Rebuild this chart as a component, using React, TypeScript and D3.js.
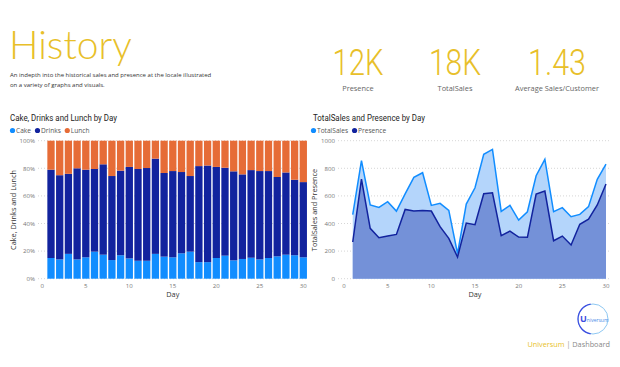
import { useEffect, useRef } from 'react';
import * as d3 from 'd3';

const days = d3.range(1, 31);

// share of each product per day, in %
const cake = [15, 14, 18, 14, 15.5, 19.6, 17.4, 13.5, 17, 14.7, 13, 13, 18, 16, 15.5, 18.4, 19.6, 12, 12, 15, 16.7, 13.3, 14.3, 15.2, 14, 15, 16.2, 17.4, 17, 15.5];
const drinks = [64, 61, 58, 66, 63.5, 59.9, 65.5, 60.9, 61.3, 66.3, 66.5, 67.2, 69, 60.6, 62.5, 58.9, 54.8, 69.6, 70, 66, 63.7, 64.5, 61.3, 63.5, 64, 63, 57.5, 59.6, 54.7, 54.5];
const lunch = [21, 25, 24, 20, 21, 20.5, 17.1, 25.6, 21.7, 19, 20.5, 19.8, 13, 23.4, 22, 22.7, 25.6, 18.4, 18, 19, 19.6, 22.2, 24.4, 21.3, 22, 22, 26.3, 23, 28.3, 30];

const totalSales = [465, 855, 534, 517, 558, 490, 615, 734, 768, 531, 546, 495, 181, 541, 659, 901, 937, 488, 531, 425, 485, 746, 865, 485, 515, 449, 466, 522, 720, 831];
const presence = [266, 722, 365, 297, 309, 321, 502, 490, 495, 490, 377, 292, 157, 403, 391, 616, 623, 312, 345, 302, 300, 613, 635, 275, 309, 244, 394, 432, 534, 686];

const kpiValues = ['12K', '18K', '1.43'];
const kpiLabels = ['Presence', 'TotalSales', 'Average Sales/Customer'];

const stackKeys = ['Cake', 'Drinks', 'Lunch'];
const stackColors = ['#118DFF', '#12239E', '#E66C37'];
const gold = '#E8BF2A';
const font = '"Open Sans", Roboto, sans-serif';

export default function App() {
  const svgRef = useRef<SVGSVGElement>(null);

  useEffect(() => {
    if (!svgRef.current) return;
    const svg = d3.select(svgRef.current);
    svg.selectAll('*').remove();
    svg.style('font-family', font);

    // header
    svg.append('text').attr('x', 9).attr('y', 59).attr('fill', gold)
      .style('font-size', '39px').style('font-weight', 300).style('font-family', 'Lato, Roboto, sans-serif')
      .text('History');
    const sub = ['An indepth into the historical sales and presence at the locale illustrated', 'on a variety of graphs and visuals.'];
    sub.forEach((t, i) => {
      svg.append('text').attr('x', 10).attr('y', 76.5 + i * 10).attr('fill', '#333')
        .style('font-size', '6px').text(t);
    });

    // cards
    const kx = [358, 455, 557];
    const kw = [51, 52, 58];
    kpiValues.forEach((v, i) => {
      svg.append('text').attr('x', kx[i] - kw[i] / 2).attr('y', 75)
        .attr('textLength', kw[i]).attr('lengthAdjust', 'spacingAndGlyphs')
        .attr('fill', gold).style('font-size', '37px').style('font-weight', 300)
        .style('font-family', 'Roboto, Lato, sans-serif').text(v);
    });
    kpiLabels.forEach((l, i) => {
      svg.append('text').attr('x', kx[i]).attr('y', 90.5).attr('text-anchor', 'middle')
        .attr('fill', '#666').style('font-size', '7.4px').text(l);
    });

    const drawLegend = (x0: number, items: string[], colors: string[]) => {
      let x = x0;
      items.forEach((name, i) => {
        svg.append('circle').attr('cx', x + 2.5).attr('cy', 130.5).attr('r', 2.6).attr('fill', colors[i]);
        const t = svg.append('text').attr('x', x + 6).attr('y', 133).attr('fill', '#555')
          .style('font-size', '6.6px').text(name);
        x += 6 + (t.node() as SVGTextElement).getComputedTextLength() + 4;
      });
    };

    const drawFrame = (
      title: string, tx: number, tw: number, yTitle: string, ytx: number,
      x: d3.ScaleLinear<number, number>, y: d3.ScaleLinear<number, number>,
      yTicks: number[], yFmt: (v: number) => string, gridX: [number, number]
    ) => {
      svg.append('text').attr('x', tx).attr('y', 121).attr('fill', '#252423')
        .attr('textLength', tw).attr('lengthAdjust', 'spacingAndGlyphs')
        .style('font-size', '8.6px').style('font-family', 'Roboto, sans-serif').text(title);
      yTicks.forEach((v) => {
        svg.append('line').attr('x1', gridX[0]).attr('x2', gridX[1]).attr('y1', y(v)).attr('y2', y(v))
          .attr('stroke', '#ccc').attr('stroke-width', 0.8).attr('stroke-dasharray', '1,2');
        svg.append('text').attr('x', gridX[0] - 3).attr('y', y(v) + 2.2).attr('text-anchor', 'end')
          .attr('fill', '#777').style('font-size', '6.1px').text(yFmt(v));
      });
      [0, 5, 10, 15, 20, 25, 30].forEach((v) => {
        svg.append('text').attr('x', x(v)).attr('y', 287.5).attr('text-anchor', 'middle')
          .attr('fill', '#777').style('font-size', '6.1px').text(v);
      });
      svg.append('text').attr('x', (x(0) + x(30)) / 2).attr('y', 297).attr('text-anchor', 'middle')
        .attr('fill', '#333').style('font-size', '7.3px').text('Day');
      svg.append('text').attr('transform', `translate(${ytx},210) rotate(-90)`).attr('text-anchor', 'middle')
        .attr('fill', '#333').style('font-size', '7.3px').text(yTitle);
    };

    // left: 100% stacked columns
    const xL = d3.scaleLinear().domain([0, 30]).range([42.3, 303.3]);
    const yL = d3.scaleLinear().domain([0, 100]).range([278.7, 140.7]);
    drawFrame('Cake, Drinks and Lunch by Day', 10, 107, 'Cake, Drinks and Lunch', 16, xL, yL,
      [0, 20, 40, 60, 80, 100], (v) => `${v}%`, [38, 307]);
    drawLegend(10, stackKeys, stackColors);

    const rows = days.map((d, i) => ({ day: d, Cake: cake[i], Drinks: drinks[i], Lunch: lunch[i] }));
    const stack = d3.stack<any>().keys(stackKeys).offset(d3.stackOffsetExpand);
    const bw = 7.3;
    stack(rows).forEach((layer, li) => {
      svg.append('g').selectAll('rect').data(layer).enter().append('rect')
        .attr('x', (d) => xL(d.data.day) - bw / 2)
        .attr('width', bw)
        .attr('y', (d) => yL(d[1] * 100))
        .attr('height', (d) => yL(d[0] * 100) - yL(d[1] * 100))
        .attr('fill', stackColors[li]);
    });

    // right: area chart
    const xR = d3.scaleLinear().domain([0, 30]).range([344, 606]);
    const yR = d3.scaleLinear().domain([0, 1000]).range([278.7, 140.7]);
    drawFrame('TotalSales and Presence by Day', 313, 112, 'TotalSales and Presence', 317, xR, yR,
      [0, 200, 400, 600, 800, 1000], (v) => `${v}`, [338, 610]);
    drawLegend(311, ['TotalSales', 'Presence'], ['#118DFF', '#12239E']);

    const area = (vals: number[]) => d3.area<number>()
      .x((_, i) => xR(days[i])).y0(yR(0)).y1((v) => yR(v))(vals);
    const line = (vals: number[]) => d3.line<number>()
      .x((_, i) => xR(days[i])).y((v) => yR(v))(vals);
    svg.append('path').attr('d', area(totalSales)).attr('fill', '#B4D5FB');
    svg.append('path').attr('d', area(presence)).attr('fill', '#7491D8');
    svg.append('path').attr('d', line(totalSales)).attr('fill', 'none').attr('stroke', '#118DFF').attr('stroke-width', 1.5);
    svg.append('path').attr('d', line(presence)).attr('fill', 'none').attr('stroke', '#12239E').attr('stroke-width', 1.5);

    // logo
    const cx = 593, cy = 319, r = 15;
    svg.append('circle').attr('cx', cx).attr('cy', cy).attr('r', r).attr('fill', 'none')
      .attr('stroke', '#8EC8F2').attr('stroke-width', 1);
    const arc = d3.arc()({ innerRadius: r - 0.6, outerRadius: r + 0.6, startAngle: -Math.PI * 0.95, endAngle: -Math.PI * 0.05 } as any);
    svg.append('path').attr('d', arc).attr('transform', `translate(${cx},${cy})`).attr('fill', '#3B4BE0');
    const lt = svg.append('text').attr('x', cx - 13).attr('y', cy + 2.5).attr('fill', '#3B4BE0');
    lt.append('tspan').style('font-size', '9px').style('font-weight', 700).text('U');
    lt.append('tspan').style('font-size', '5px').attr('fill', '#4A8BE8').text('niversum');

    const ft = svg.append('text').attr('x', 610).attr('y', 347).attr('text-anchor', 'end').style('font-size', '7.3px');
    ft.append('tspan').attr('fill', gold).text('Universum');
    ft.append('tspan').attr('fill', '#999').text(' | ');
    ft.append('tspan').attr('fill', '#888').text('Dashboard');
  }, []);

  return (
    <svg ref={svgRef} width={620} height={367}
      style={{ position: 'absolute', left: 0, top: 0, background: '#fff' }} />
  );
}
